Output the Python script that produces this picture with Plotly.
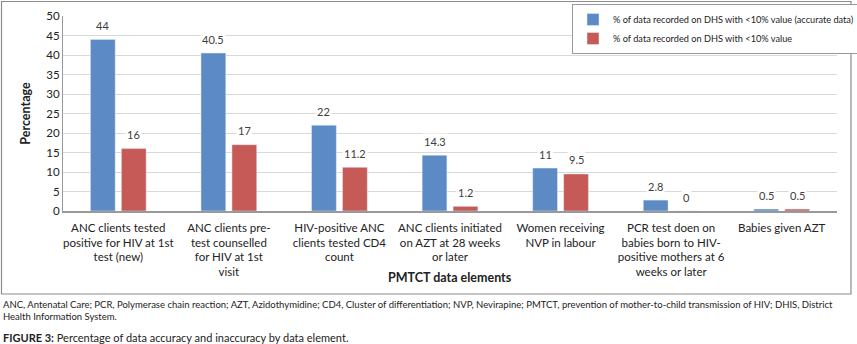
import plotly.graph_objects as go

categories = [
    "ANC clients tested<br>positive for HIV at 1st<br>test (new)",
    "ANC clients pre-<br>test counselled<br>for HIV at 1st<br>visit",
    "HIV-positive ANC<br>clients tested CD4<br>count",
    "ANC clients initiated<br>on AZT at 28 weeks<br>or later",
    "Women receiving<br>NVP in labour",
    "PCR test doen on<br>babies born to HIV-<br>positive mothers at 6<br>weeks or later",
    "Babies given AZT",
]
accurate = [44, 40.5, 22, 14.3, 11, 2.8, 0.5]
inaccurate = [16, 17, 11.2, 1.2, 9.5, 0, 0.5]
labels_acc = ["44", "40.5", "22", "14.3", "11", "2.8", "0.5"]
labels_inacc = ["16", "17", "11.2", "1.2", "9.5", "0", "0.5"]
series_names = [
    "% of data recorded on DHS with <10% value (accurate data)",
    "% of data recorded on DHS with <10% value",
]
y_ticks = [0, 5, 10, 15, 20, 25, 30, 35, 40, 45, 50]

FONT = "Lato, Open Sans, sans-serif"
BLUE = "#5B8AC4"
RED = "#C55A57"
TXT = "#404040"

# plot area pixel geometry
L, R, T, B = 63, 837, 16, 211
W, H = 857, 344

fig = go.Figure()
fig.add_trace(go.Bar(x=categories, y=accurate, name=series_names[0], marker_color=BLUE))
fig.add_trace(go.Bar(x=categories, y=inaccurate, name=series_names[1], marker_color=RED))

annotations = []
for i, c in enumerate(categories):
    for vals, labs, shift in ((accurate, labels_acc, -15.5), (inaccurate, labels_inacc, 15.5)):
        annotations.append(dict(
            x=c, y=vals[i], xref="x", yref="y", text=labs[i], showarrow=False,
            xshift=shift, yshift=14, yanchor="middle",
            font=dict(family=FONT, size=11, color=TXT),
            bgcolor="white", borderpad=1,
        ))

def px2x(px):
    return (px - L) / (R - L)

def py2y(py):
    return (B - py) / (B - T)

# x axis title as annotation (placed like the reference)
annotations.append(dict(
    x=0.5, y=py2y(277), xref="paper", yref="paper", text="<b>PMTCT data elements</b>",
    showarrow=False, xanchor="center", yanchor="middle",
    font=dict(family=FONT, size=12.5, color="#222"),
))

caption1 = ("ANC, Antenatal Care; PCR, Polymerase chain reaction; AZT, Azidothymidine; CD4, Cluster of differentiation; "
            "NVP, Nevirapine; PMTCT, prevention of mother-to-child transmission of HIV; DHIS, District")
caption2 = "Health Information System."
fig_caption = "<b>FIGURE 3:</b> Percentage of data accuracy and inaccuracy by data element."

for text, py, size in ((caption1, 304, 9.5), (caption2, 317, 9.5), (fig_caption, 337, 11)):
    annotations.append(dict(
        x=px2x(1), y=py2y(py), xref="paper", yref="paper", text=text, showarrow=False,
        xanchor="left", yanchor="middle", font=dict(family=FONT, size=size, color="#222"),
    ))

fig.update_layout(
    width=W, height=H,
    margin=dict(l=L, r=W - R, t=T, b=H - B, autoexpand=False),
    paper_bgcolor="white", plot_bgcolor="white",
    barmode="group", bargap=0.44, bargroupgap=0.2,
    font=dict(family=FONT, color=TXT, size=11.5),
    showlegend=True,
    legend=dict(
        x=px2x(572), y=py2y(4), xanchor="left", yanchor="top",
        bgcolor="white", bordercolor="#999", borderwidth=1,
        font=dict(family=FONT, size=9.2, color="#222"),
        itemwidth=30, tracegroupgap=0,
    ),
    xaxis=dict(
        showgrid=False, showline=True, linecolor="#999", linewidth=1.5,
        tickfont=dict(family=FONT, size=11.5, color="#222"),
        ticks="", tickangle=0, automargin=False, ticklabelstandoff=5,
    ),
    yaxis=dict(
        range=[0, 50], tickvals=y_ticks, showgrid=True, gridcolor="#d9d9d9", gridwidth=1,
        showline=True, linecolor="#999", linewidth=1, zeroline=False,
        tickfont=dict(family=FONT, size=11.5, color="#222"),
        title=dict(text="<b>Percentage</b>", font=dict(family=FONT, size=12.5, color="#222"), standoff=12),
        ticks="", automargin=False,
    ),
    annotations=annotations,
    shapes=[dict(
        type="rect", xref="paper", yref="paper",
        x0=px2x(1.5), x1=px2x(851), y0=py2y(294), y1=py2y(1.5),
        line=dict(color="#8c8c8c", width=1.2), fillcolor="rgba(0,0,0,0)", layer="above",
    )],
)

fig.write_html("out.html", config={"displayModeBar": False},
               post_script="document.body.style.margin='0';document.body.style.overflow='hidden';")
